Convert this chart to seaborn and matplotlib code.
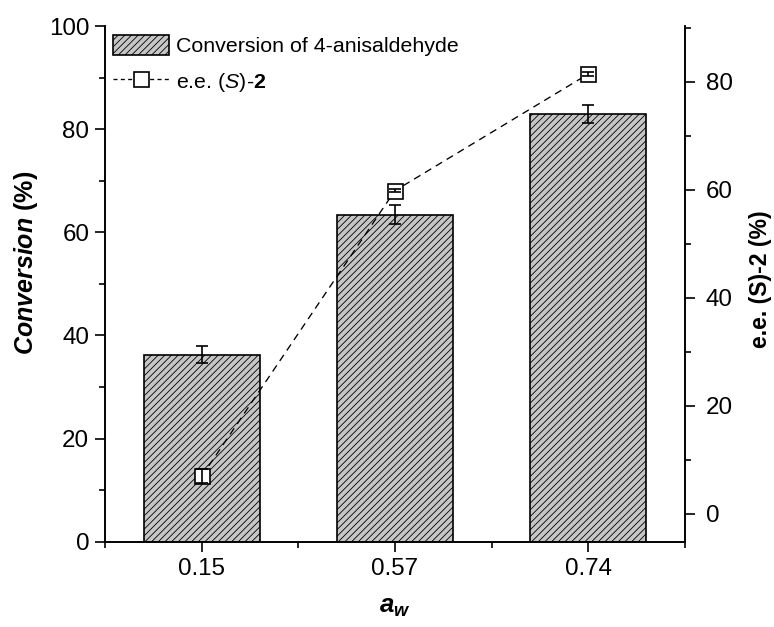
import numpy as np
import pandas as pd
import matplotlib
matplotlib.use('Agg')
import matplotlib.pyplot as plt
from matplotlib.patches import Patch
from matplotlib.lines import Line2D
from matplotlib.ticker import MultipleLocator, FixedLocator
import seaborn as sns

# values
aw_labels = ['0.15', '0.57', '0.74']
conversion = [36.3, 63.4, 82.9]
conversion_err = [1.6, 1.8, 1.7]
ee = [6.9, 59.8, 81.4]
ee_err = [1.3, 0.3, 0.3]

sns.set_theme(style='ticks')
plt.rcParams['font.family'] = ['Liberation Sans', 'DejaVu Sans']
plt.rcParams.update({
    'mathtext.fontset': 'custom',
    'mathtext.rm': 'Liberation Sans',
    'mathtext.it': 'Liberation Sans:italic',
    'mathtext.bf': 'Liberation Sans:italic:bold',
    'mathtext.sf': 'Liberation Sans:bold',
    'hatch.linewidth': 0.5,
    'axes.linewidth': 1.0,
    'axes.edgecolor': 'black',
    'axes.labelcolor': 'black',
    'text.color': 'black',
    'xtick.color': 'black',
    'ytick.color': 'black',
})

bar_color = '#c6c6c6'
hatch = '//////'
fs = 14.5

fig = plt.figure(figsize=(6.45, 5.225), dpi=120)
ax = fig.add_axes([0.1357, 0.136, 0.749, 0.8225])

df = pd.DataFrame({'aw': aw_labels, 'conversion': conversion})
sns.barplot(data=df, x='aw', y='conversion', color=bar_color, saturation=1,
            width=0.6, edgecolor='black', linewidth=1, hatch=hatch,
            errorbar=None, ax=ax, zorder=2)
xpos = np.arange(len(aw_labels))
ax.errorbar(xpos, conversion, yerr=conversion_err, fmt='none', ecolor='black',
            elinewidth=1, capsize=3.5, capthick=1, zorder=3)

# second axis: e.e.
ax2 = ax.twinx()
sns.lineplot(x=xpos, y=ee, ax=ax2, color='black', linewidth=0.8, linestyle='--',
             marker='s', markersize=9, markerfacecolor='white',
             markeredgecolor='black', markeredgewidth=1.0, zorder=3)
ax2.lines[0].set_dashes((5.5, 4))
ax2.errorbar(xpos, ee, yerr=ee_err, fmt='none', ecolor='black',
             elinewidth=1, capsize=3.5, capthick=1, zorder=4)

ax.set_xlim(-0.5, 2.5)
ax.set_ylim(0, 100)

ax.yaxis.set_major_locator(MultipleLocator(20))
ax.yaxis.set_minor_locator(MultipleLocator(10))
ax.xaxis.set_minor_locator(FixedLocator([-0.5, 0.5, 1.5, 2.5]))
ax2.yaxis.set_major_locator(MultipleLocator(20))
ax2.yaxis.set_minor_locator(MultipleLocator(10))

for a in (ax, ax2):
    a.spines['top'].set_visible(False)
    a.tick_params(which='major', direction='out', length=6, width=1, labelsize=fs)
    a.tick_params(which='minor', direction='out', length=3.5, width=1)
ax2.tick_params(axis='y', which='major', pad=6.5)
ax2.set_ylim(-5.2, 90.3)

ax.set_xlabel(r'$\mathbf{a_w}$', fontsize=15.5, labelpad=9)
ax.set_ylabel(r'$\mathbf{Conversion}$ (%)', fontsize=15, fontweight='bold')
ax.yaxis.set_label_coords(-0.112, 0.54)
ax2.set_ylabel('e.e. (S)-2 (%)', fontsize=13.8, fontweight='bold')
ax2.yaxis.set_label_coords(1.11, 0.51)
ax2.set_xlabel('')

handles = [
    Patch(facecolor=bar_color, edgecolor='black', hatch=hatch, linewidth=1),
    Line2D([], [], color='black', linestyle='--', dashes=(3, 2.5), linewidth=0.8,
           marker='s', markersize=9, markerfacecolor='white',
           markeredgecolor='black', markeredgewidth=1.0),
]
labels = ['Conversion of 4-anisaldehyde', r'e.e. ($\mathit{S}$)-$\mathsf{2}$']
ax2.legend(handles, labels, loc='upper left', bbox_to_anchor=(-0.008, 1.008),
           frameon=False, fontsize=12.8, handlelength=2.6, handleheight=1.1,
           handletextpad=0.35, labelspacing=0.65, borderaxespad=0.2)

fig.savefig('out.png', dpi=120)
